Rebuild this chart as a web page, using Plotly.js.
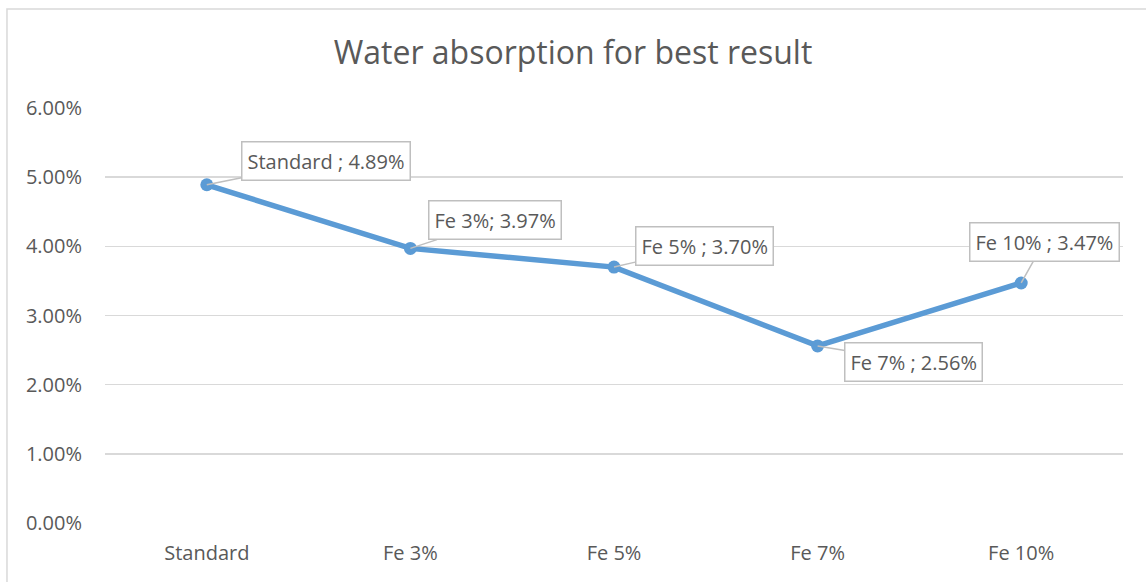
<!DOCTYPE html>
<html>
<head>
<meta charset="utf-8">
<script src="https://cdn.plot.ly/plotly-3.0.1.min.js"></script>
<style>
html,body{margin:0;padding:0;background:#fff;}
#chart{width:1146px;height:582px;}
</style>
</head>
<body>
<div id="chart"></div>
<script>
const categories = ["Standard", "Fe 3%", "Fe 5%", "Fe 7%", "Fe 10%"];
const values = [0.0489, 0.0397, 0.0370, 0.0256, 0.0347];
const labels = ["Standard ; 4.89%", "Fe 3%; 3.97%", "Fe 5% ; 3.70%", "Fe 7% ; 2.56%", "Fe 10% ; 3.47%"];
const labelOffsets = [[119, -24], [85, -28], [90, -21], [96, 16], [23, -41]];

const trace = {
  x: categories,
  y: values,
  type: "scatter",
  mode: "lines+markers",
  line: {color: "#5B9BD5", width: 5.5},
  marker: {color: "#5B9BD5", size: 13},
  hoverinfo: "none"
};

const annotations = categories.map((c, i) => ({
  x: c, y: values[i], xref: "x", yref: "y",
  text: labels[i],
  showarrow: true, arrowhead: 0, arrowwidth: 1.5, arrowcolor: "#BFBFBF",
  ax: labelOffsets[i][0], ay: labelOffsets[i][1],
  axref: "pixel", ayref: "pixel",
  bgcolor: "#FFFFFF", bordercolor: "#BFBFBF", borderwidth: 1.5, borderpad: 5,
  font: {family: "Open Sans, sans-serif", size: 20, color: "#595959"}
}));

const layout = {
  width: 1146, height: 582,
  margin: {l: 105, r: 23, t: 108, b: 59},
  paper_bgcolor: "#FFFFFF", plot_bgcolor: "#FFFFFF",
  title: {text: "Water absorption for best result", x: 0.5, xanchor: "center", y: 0.91, yanchor: "middle",
          font: {family: "Open Sans, sans-serif", size: 32, color: "#595959"}},
  showlegend: false,
  xaxis: {type: "category", range: [-0.5, 4.5], showgrid: false, zeroline: false, showline: false,
          ticks: "", ticklabelstandoff: 16,
          tickfont: {family: "Open Sans, sans-serif", size: 20, color: "#595959"}},
  yaxis: {range: [0, 0.06], dtick: 0.01, tickformat: ".2%", showgrid: true, gridcolor: "#D9D9D9", gridwidth: 1.5,
          zeroline: false, showline: false, ticks: "", ticklabelstandoff: 22,
          tickfont: {family: "Open Sans, sans-serif", size: 20, color: "#595959"}},
  annotations: annotations,
  shapes: [{type: "rect", xref: "paper", yref: "paper", x0: -0.0963, x1: 1.2, y0: -0.3, y1: 1.2386,
            line: {color: "#D9D9D9", width: 1.5}, fillcolor: "rgba(0,0,0,0)", layer: "below"}]
};

Plotly.newPlot("chart", [trace], layout, {displayModeBar: false, staticPlot: true});
</script>
</body>
</html>
